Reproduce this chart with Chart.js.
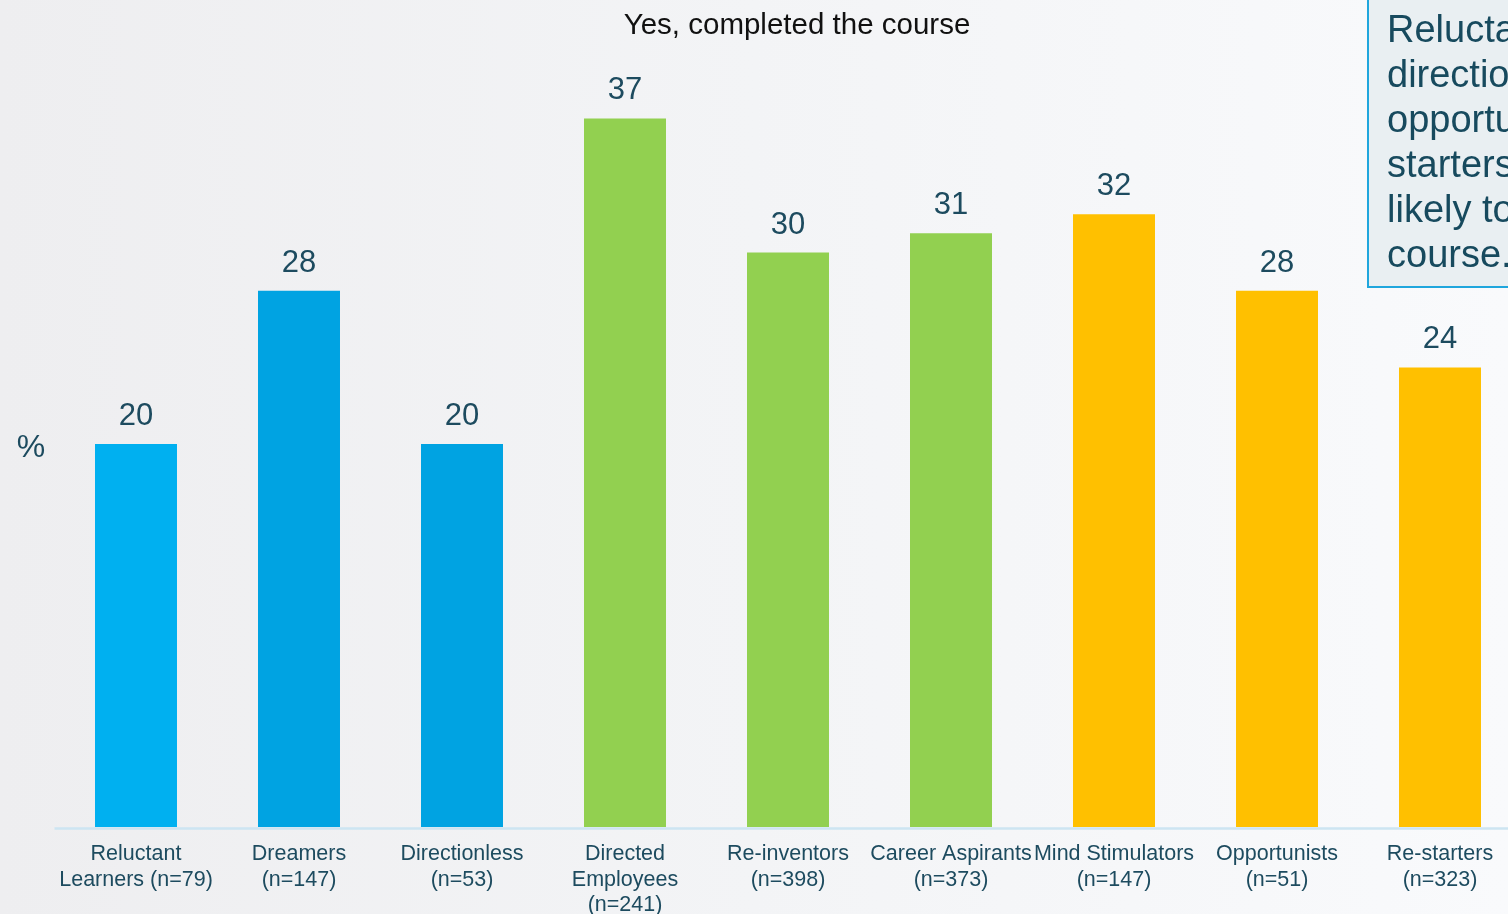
<!DOCTYPE html>
<html>
<head>
<meta charset="utf-8">
<script src="https://cdn.jsdelivr.net/npm/chart.js@4/dist/chart.umd.min.js"></script>
<style>
  html, body { margin: 0; padding: 0; width: 1508px; height: 914px; overflow: hidden; }
  body { background: linear-gradient(90deg, #eeeef0 0%, #f3f4f6 50%, #f9fafc 100%); }
  #wrap { position: absolute; left: 0; top: 0; width: 1522px; height: 914px; }
</style>
</head>
<body>
<div id="wrap"><canvas id="c" width="1522" height="914"></canvas></div>
<script>
// Share of each learner segment that completed the course (%)
const segments = [
  ['Reluctant', 'Learners (n=79)'],
  ['Dreamers', '(n=147)'],
  ['Directionless', '(n=53)'],
  ['Directed', 'Employees', '(n=241)'],
  ['Re-inventors', '(n=398)'],
  ['Career Aspirants', '(n=373)'],
  ['Mind Stimulators', '(n=147)'],
  ['Opportunists', '(n=51)'],
  ['Re-starters', '(n=323)']
];
const completedPct = [20, 28, 20, 37, 30, 31, 32, 28, 24];
const segmentColors = [
  '#00B0F0', '#00A3E2', '#00A3E2',
  '#92D050', '#92D050', '#92D050',
  '#FFC000', '#FFC000', '#FFC000'
];
const chartTitle = 'Yes, completed the course';
const unitLabel = '%';
const noteLines = [
  'Reluctant learners,',
  'directionless,',
  'opportunists and re-',
  'starters are less',
  'likely to complete the',
  'course.'
];

const FONT = '"Liberation Sans", Arial, sans-serif';
const TEXT_DARK = '#1d4b5f';

// Value labels, title, unit label, baseline and the side note
const decorations = {
  id: 'decorations',
  beforeDatasetsDraw(chart) {
    const { ctx, chartArea } = chart;
    ctx.save();
    ctx.strokeStyle = '#cde5f2';
    ctx.lineWidth = 2.5;
    ctx.beginPath();
    ctx.moveTo(chartArea.left, chartArea.bottom + 1.5);
    ctx.lineTo(chart.width, chartArea.bottom + 1.5);
    ctx.stroke();
    ctx.restore();
  },
  afterDatasetsDraw(chart) {
    const { ctx } = chart;
    const meta = chart.getDatasetMeta(0);
    ctx.save();
    ctx.fillStyle = TEXT_DARK;
    ctx.font = '31px ' + FONT;
    ctx.textAlign = 'center';
    ctx.textBaseline = 'alphabetic';
    meta.data.forEach((bar, i) => {
      ctx.fillText(String(completedPct[i]), bar.x, bar.y - 19);
    });

    ctx.fillStyle = '#111111';
    ctx.font = '29.5px ' + FONT;
    ctx.fillText(chartTitle, 797, 34);

    ctx.fillStyle = TEXT_DARK;
    ctx.font = '32px ' + FONT;
    ctx.fillText(unitLabel, 31, 457);

    // side note box
    ctx.fillStyle = '#e9eff2';
    ctx.fillRect(1368, -4, 200, 291);
    ctx.strokeStyle = '#1fa6dd';
    ctx.lineWidth = 2;
    ctx.strokeRect(1368, -4, 200, 291);
    ctx.fillStyle = '#174a5e';
    ctx.font = '38px ' + FONT;
    ctx.textAlign = 'left';
    noteLines.forEach((line, i) => {
      ctx.fillText(line, 1387, 42 + i * 45);
    });
    ctx.restore();
  }
};

new Chart(document.getElementById('c'), {
  type: 'bar',
  data: {
    labels: segments,
    datasets: [{
      data: completedPct,
      backgroundColor: segmentColors,
      borderWidth: 0,
      barPercentage: 0.503,
      categoryPercentage: 1.0
    }]
  },
  options: {
    responsive: false,
    animation: false,
    devicePixelRatio: 1,
    layout: { padding: { left: 54.5, right: 0.5, top: 61, bottom: 0 } },
    plugins: {
      legend: { display: false },
      title: { display: false },
      tooltip: { enabled: false }
    },
    scales: {
      y: {
        display: false,
        min: 0,
        max: 40
      },
      x: {
        grid: { display: false, drawTicks: false },
        border: { display: false },
        ticks: {
          color: TEXT_DARK,
          font: { family: FONT, size: 21.5, lineHeight: 1.17 },
          padding: 15,
          maxRotation: 0,
          autoSkip: false
        },
        afterFit(scale) { scale.height = 87; }
      }
    }
  },
  plugins: [decorations]
});
</script>
</body>
</html>
